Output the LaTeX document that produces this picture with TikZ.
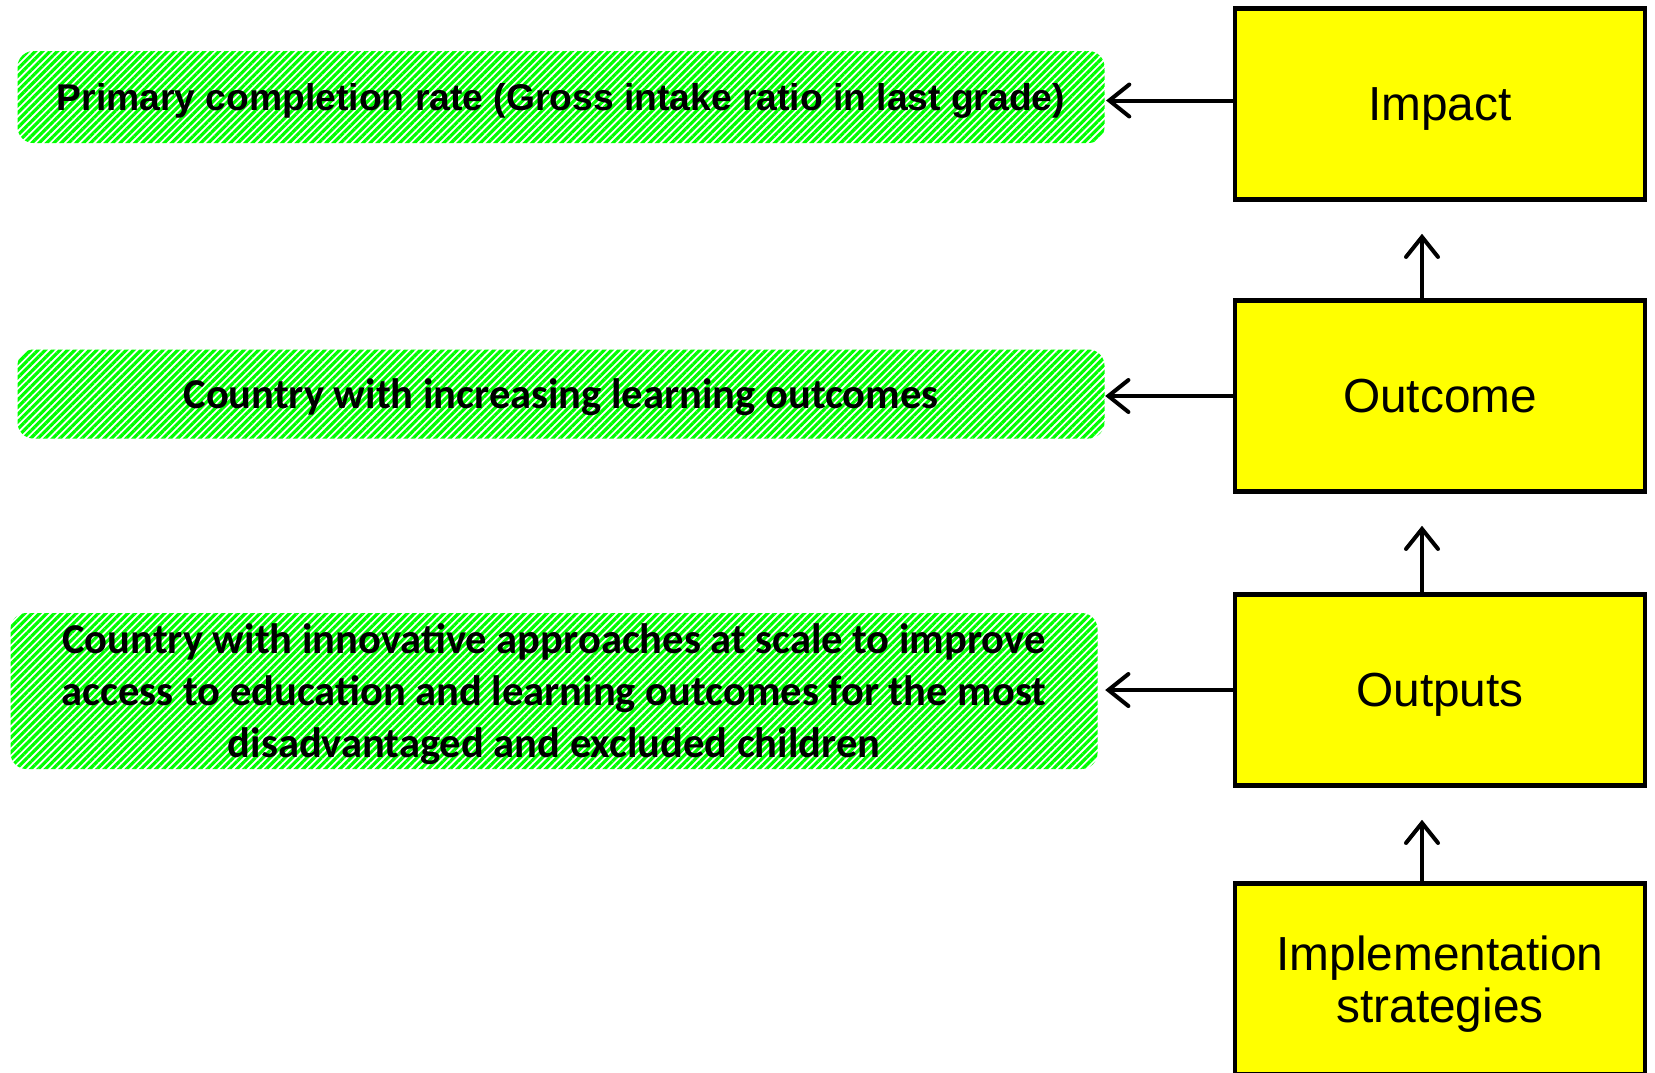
\documentclass[tikz,border=0pt]{standalone}
\usepackage{fontspec}
\setmainfont{Liberation Sans}
\newfontfamily\calibri{Carlito}
\usetikzlibrary{arrows.meta,patterns.meta}
\definecolor{boxyellow}{RGB}{255,255,0}
\definecolor{hatchgreen}{RGB}{0,255,0}

\begin{document}
\begin{tikzpicture}[x=0.1mm,y=-0.1mm,
    level/.style={draw=black,line width=0.45mm,fill=boxyellow,minimum width=41mm,minimum height=19.1mm,inner sep=0pt,text depth=0pt,align=center,font=\fontsize{13.6}{14.8}\selectfont},
    hatch/.style={rounded corners=1.6mm,pattern={Lines[angle=45,distance=0.52mm,line width=0.32mm]},pattern color=hatchgreen,inner sep=0pt,text depth=0pt,align=center,minimum width=108.7mm},
    back/.style={line width=0.4mm,-{Straight Barb[length=2mm,width=3.2mm,line cap=round]}}]
        \clip (0,0) rectangle (1655,1072);

        % levels on the right
        \node[level] (impact) at (1440,104) {Impact};
        \node[level] (outcome) at (1440,396) {Outcome};
        \node[level] (outputs) at (1440,690) {Outputs};
        \node[level] (impl) at (1440,979) {Implementation\\strategies};

        % indicators on the left
        \node[hatch,minimum height=9.2mm,font=\fontsize{10.6}{12}\selectfont\bfseries] (goal) at (561,97) {Primary completion rate (Gross intake ratio in last grade)};
        \node[hatch,minimum height=8.9mm,font=\fontsize{12.1}{14}\calibri\bfseries] (result) at (561,394) {Country with increasing learning outcomes};
        \node[hatch,minimum height=15.6mm,font=\fontsize{12.1}{14.8}\calibri\bfseries] (product) at (554,691) {Country with innovative approaches at scale to improve\\access to education and learning outcomes for the most\\disadvantaged and excluded children};

        \draw[back] ([yshift=0.35mm]impact.west) -- ([yshift=0.35mm]impact.west -| goal.east);
        \draw[back] (outcome.west) -- (outcome.west -| result.east);
        \draw[back] (outputs.west) -- (outputs.west -| result.east);

        \draw[back,shorten >=3.2mm] ([xshift=-1.8mm]outcome.north) -- ([xshift=-1.8mm]impact.south);
        \draw[back,shorten >=3.2mm] ([xshift=-1.8mm]outputs.north) -- ([xshift=-1.8mm]outcome.south);
        \draw[back,shorten >=3.2mm] ([xshift=-1.8mm]impl.north) -- ([xshift=-1.8mm]outputs.south);
    \end{tikzpicture}
\end{document}
